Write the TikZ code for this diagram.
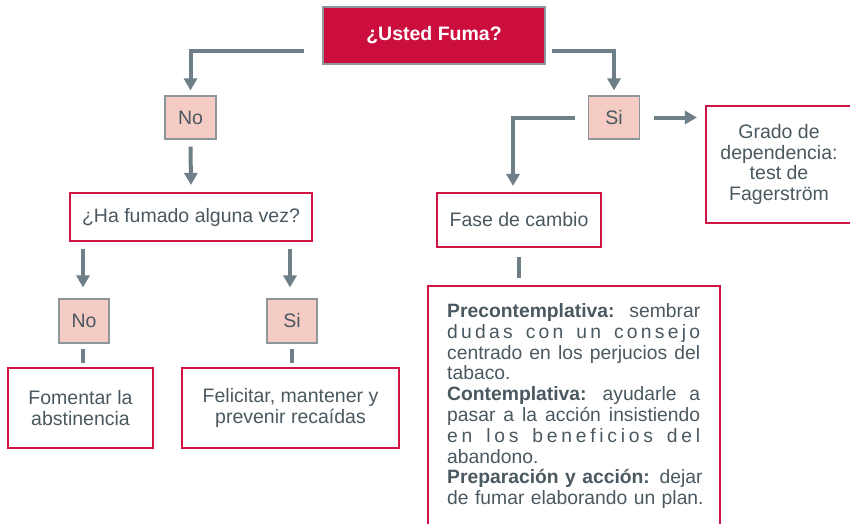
\documentclass[tikz,border=0pt]{standalone}
\usepackage{fontspec}
\setmainfont{Liberation Sans}
\usetikzlibrary{arrows.meta}
\definecolor{crim}{HTML}{CC0E3E}
\definecolor{redb}{HTML}{D01343}
\definecolor{pinkf}{HTML}{F4CCC4}
\definecolor{slate}{HTML}{6E7F88}
\definecolor{txt}{HTML}{4A5860}
\definecolor{thin}{HTML}{8C969C}
\newcommand{\jline}[1]{\hbox to 253pt{#1}}
\begin{document}
\begin{tikzpicture}[x=1pt,y=-1pt,
  lbl/.style={font=\fontsize{19.5}{20.5}\selectfont, text=txt, align=center, inner sep=0pt},
  redbox/.style={lbl, draw=redb, line width=2.2pt, fill=white},
  pinkbox/.style={lbl, draw=thin, line width=1.2pt, fill=pinkf, minimum width=51pt, minimum height=43pt},
  conn/.style={draw=slate, line width=4pt},
  arr/.style={conn, -{Triangle[width=13pt,length=12pt]}}
]
\useasboundingbox (0,0) rectangle (850,523);
\clip (0,0) rectangle (850,523);
\fill[white] (0,0) rectangle (850,523);

\node[draw=thin, fill=crim, line width=1.2pt, minimum width=222pt, minimum height=57pt,
      text=white, inner sep=0pt, font=\fontsize{19.5}{20.5}\selectfont\bfseries] (top) at (434,35.5) {¿Usted Fuma?};

\node[pinkbox] (no1) at (190.5,117.5) {No};
\node[pinkbox] (si1) at (614,117.5) {Si};
\node[redbox, minimum width=146pt, minimum height=117pt] (grado) at (779,164.5) {Grado de\\dependencia:\\test de\\Fagerström};
\node[redbox, minimum width=242pt, minimum height=48pt] (haf) at (191,217) {¿Ha fumado alguna vez?};
\node[redbox, minimum width=164pt, minimum height=54pt] (fase) at (519,220) {Fase de cambio};
\node[pinkbox, minimum width=50pt, minimum height=44pt] (no2) at (84,321) {No};
\node[pinkbox, minimum width=50pt, minimum height=44pt] (si2) at (292,321) {Si};
\node[redbox, minimum width=145pt, minimum height=80pt] (fom) at (80.5,408) {Fomentar la\\abstinencia};
\node[redbox, minimum width=217pt, minimum height=80pt] (fel) at (290.5,408) {Felicitar, mantener y\\prevenir recaídas};

\node[draw=redb, line width=2.2pt, fill=white, minimum width=292pt, minimum height=260pt,
      anchor=north west, inner sep=0pt] (big) at (427,285) {};
\node[anchor=north west, inner sep=0pt, text width=253pt, text=txt,
      font=\fontsize{19.3}{20.8}\selectfont] (bigtext) at (447,303.3) {%
\jline{\textbf{Precontemplativa:} \hfill sembrar}
\jline{d\hfill u\hfill d\hfill a\hfill s \hfill\hfill c\hfill o\hfill n \hfill\hfill u\hfill n \hfill\hfill c\hfill o\hfill n\hfill s\hfill e\hfill j\hfill o}
\jline{centrado \hfill en \hfill los \hfill perjucios \hfill del}
\jline{tabaco.\hfill}
\jline{\textbf{Contemplativa:} \hfill ayudarle \hfill a}
\jline{pasar \hfill a \hfill la \hfill acción \hfill insistiendo}
\jline{e\hfill n \hfill\hfill l\hfill o\hfill s \hfill\hfill b\hfill e\hfill n\hfill e\hfill f\hfill i\hfill c\hfill i\hfill o\hfill s \hfill\hfill d\hfill e\hfill l}
\jline{abandono.\hfill}
\jline{\textbf{Preparación y acción:} \hfill dejar}
\jline{de \hfill fumar \hfill elaborando \hfill un \hfill plan.}};

% connectors
\draw[arr] ([xshift=-18pt,yshift=-15.5pt]top.west) -| ([yshift=5pt]no1.north);
\draw[arr] ([xshift=6pt,yshift=-15.5pt]top.east) -| ([yshift=5pt]si1.north);
\draw[arr] ([xshift=-13pt]si1.west) -| ([xshift=-6pt,yshift=6pt]fase.north);
\coordinate (g) at (si1.east -| grado.west);
\draw[arr] ([xshift=14pt]si1.east) -- ([xshift=-8pt]g);
\draw[arr] ([yshift=-7pt]no1.south) -- ([yshift=7pt]haf.north);
\coordinate (a1) at (haf.south -| no2.north);
\coordinate (a2) at (haf.south -| si2.north);
\draw[arr] ([xshift=-1pt,yshift=-7pt]a1) -- ([xshift=-1pt,yshift=11pt]no2.north);
\draw[arr] ([xshift=-2pt,yshift=-7pt]a2) -- ([xshift=-2pt,yshift=11pt]si2.north);
\draw[conn] ([xshift=-1pt,yshift=-5pt]no2.south) -- ++(0,14);
\draw[conn] ([yshift=-5pt]si2.south) -- ++(0,14);
\draw[conn] ([yshift=-9pt]fase.south) -- ++(0,21);
\end{tikzpicture}
\end{document}
